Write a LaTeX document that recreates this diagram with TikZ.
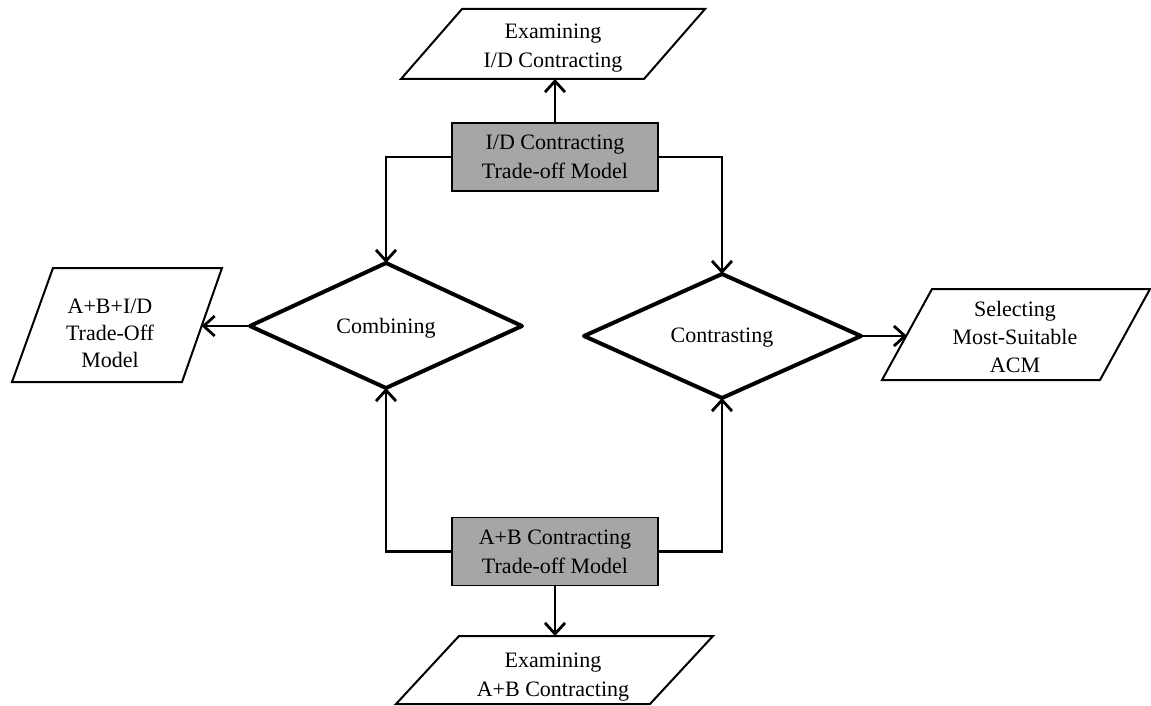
\documentclass[tikz,border=0pt]{standalone}
\usepackage{fontspec}
\setmainfont{Liberation Serif}
\usetikzlibrary{arrows.meta}
\definecolor{boxgray}{RGB}{166,166,166}
\newcommand\diagfont{\fontsize{22}{29}\selectfont}
\tikzset{
  conn/.style={line width=2.8pt},
  arr/.style={conn, -{Straight Barb[length=11pt,width=20pt]}},
  iobox/.style={draw, line width=2pt, fill=white, line join=miter},
  decbox/.style={draw, line width=4pt, line join=round},
  proc/.style={draw, line width=1.8pt, fill=boxgray, minimum width=206pt, minimum height=68pt, inner sep=0pt, align=center, font=\diagfont},
  txt/.style={align=center, font=\diagfont, inner sep=0pt}
}
\begin{document}
\begin{tikzpicture}[x=1pt,y=-1pt]
\useasboundingbox (0,0) rectangle (1151,706);
% process boxes
\node[proc] (b1) at (555,157) {I/D Contracting\\Trade-off Model};
\node[proc] (b2) at (555,551.5) {A+B Contracting\\Trade-off Model};
% parallelograms
\draw[iobox] (462,9) -- (705,9) -- (644,79) -- (401,79) -- cycle;
\node[txt] (p1) at (553,48) {Examining\\I/D Contracting};
\coordinate (p1b) at (555,79);
\draw[iobox] (53,268) -- (222,268) -- (182,382) -- (12,382) -- cycle;
\node[txt,font=\fontsize{22}{27}\selectfont] (p2) at (110,333) {A+B+I/D\\Trade-Off\\Model};
\coordinate (p2r) at (201.6,326);
\draw[iobox] (932,289) -- (1150,289) -- (1100,380) -- (882,380) -- cycle;
\node[txt,font=\fontsize{22}{28}\selectfont] (p3) at (1015,337) {Selecting\\Most-Suitable\\ACM};
\coordinate (p3l) at (907,336);
\draw[iobox] (459,636) -- (713,636) -- (650,704) -- (396,704) -- cycle;
\node[txt] (p4) at (553,677) {Examining\\A+B Contracting};
\coordinate (p4t) at (555,636);
% diamonds
\coordinate (cbl) at (250,326);
\coordinate (cbt) at (386,263);
\coordinate (cbr) at (522,326);
\coordinate (cbb) at (386,388);
\draw[decbox] (cbl) -- (cbt) -- (cbr) -- (cbb) -- cycle;
\node[txt] (cb) at (386,328) {Combining};
\coordinate (ctl) at (584,336);
\coordinate (ctt) at (722,274);
\coordinate (ctr) at (861,336);
\coordinate (ctb) at (722,398);
\draw[decbox] (ctl) -- (ctt) -- (ctr) -- (ctb) -- cycle;
\node[txt] (ct) at (722,338) {Contrasting};
% connectors
\draw[arr] (b1.north) -- (p1b);
\draw[arr] (b2.south) -- (p4t);
\draw[arr] (b1.west) -| (cbt);
\draw[arr] (b1.east) -| (ctt);
\draw[arr] (b2.west) -| (cbb);
\draw[arr] (b2.east) -| (ctb);
\draw[arr] (cbl) -- (p2r);
\draw[arr] (ctr) -- (p3l);
\end{tikzpicture}
\end{document}
